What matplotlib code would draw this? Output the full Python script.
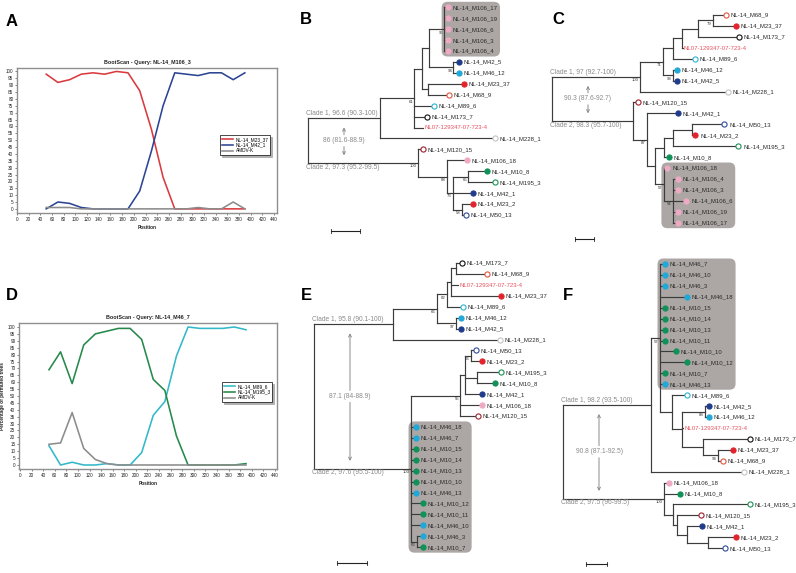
import re
import matplotlib
matplotlib.use('Agg')
import matplotlib.pyplot as plt
import matplotlib.transforms as mtransforms
from matplotlib.collections import LineCollection
from matplotlib.patches import FancyBboxPatch
from matplotlib.ticker import MultipleLocator

plt.rcParams['font.family'] = ['Liberation Sans', 'DejaVu Sans']

# Data

# BootScan windows (position of window centre)
positions = [50, 70, 90, 110, 130, 150, 170, 190, 210, 230, 250, 270, 290, 310, 330, 350, 370, 390]

# A: query NL-14_M106_3
a_m23_37 = [98, 92, 94, 98, 99, 98, 100, 99, 86, 58, 23, 0, 0, 0, 0, 0, 0, 0]
a_m42_1 = [0, 5, 4, 1, 0, 0, 0, 0, 13, 42, 75, 99, 98, 97, 99, 99, 94, 99]
a_amdv_k = [1, 1, 1, 0, 0, 0, 0, 0, 0, 0, 0, 0, 0, 1, 0, 0, 5, 0]

# D: query NL-14_M46_7
d_m89_6 = [14, 0, 2, 0, 0, 1, 0, 0, 9, 36, 46, 79, 100, 99, 99, 99, 100, 98]
d_m195_3 = [69, 82, 59, 87, 95, 97, 99, 99, 91, 62, 54, 21, 0, 0, 0, 0, 0, 1]
d_amdv_k = [15, 16, 38, 12, 4, 1, 0, 0, 0, 0, 0, 0, 0, 0, 0, 0, 0, 0]

# trees (branch lengths in substitutions/site, internal labels = bootstrap)
newick_b = ("((((((NL-14_M106_17:0.0007,NL-14_M106_19:0.0007,NL-14_M106_6:0.0007,NL-14_M106_3:0.0007,"
            "NL-14_M106_4:0.0007)95:0.0104,(NL-14_M42_5:0.0021,NL-14_M46_12:0.0021)94:0.0166):0.0048,"
            "(NL-14_M23_37:0.0228,NL-14_M68_9:0.0124):0.0041):0.0055,NL-14_M89_6:0.0117,NL-14_M173_7:0.0069,"
            "NL07-129347-07-723-4:0.0062)61:0.0235,NL-14_M228_1:0.0773):0.0497,(NL-14_M120_15:0.0014,"
            "(NL-14_M106_18:0.0117,((NL-14_M10_8:0.0110,NL-14_M195_3:0.0166)65:0.0104,NL-14_M42_1:0.0117,"
            "(NL-14_M23_2:0.0055,NL-14_M50_13:0.0007)58:0.0062)73:0.0041)68:0.0200)100:0.0759);")

newick_c = ("(((((((NL-14_M68_9:0.0053,NL-14_M23_37:0.0105)79:0.0079,NL-14_M173_7:0.0200):0.0084,"
            "NL07-129347-07-723-4:0.0003):0.0047,NL-14_M89_6:0.0100):0.0053,(NL-14_M46_12:0.0005,"
            "NL-14_M42_5:0.0005)93:0.0053)71:0.0121,NL-14_M228_1:0.0447)100:0.0463,(NL-14_M120_15:0.0011,"
            "(NL-14_M42_1:0.0147,((((NL-14_M50_13:0.0158,NL-14_M23_2:0.0005):0.0100,NL-14_M195_3:0.0331):0.0047,"
            "NL-14_M10_8:0.0011):0.0047,(NL-14_M106_18:0.0005,(NL-14_M106_4:0.0011,NL-14_M106_3:0.0011,"
            "NL-14_M106_6:0.0058,NL-14_M106_19:0.0011,NL-14_M106_17:0.0011)54:0.0047)57:0.0047):0.0042)87:0.0074)"
            ":0.0426);")

newick_e = ("((((((NL-14_M173_7:0.0020,NL-14_M68_9:0.0187):0.0033,NL07-129347-07-723-4:0.0047,"
            "NL-14_M23_37:0.0313):0.0027,NL-14_M89_6:0.0087)62:0.0067,(NL-14_M46_12:0.0013,"
            "NL-14_M42_5:0.0013)97:0.0127)66:0.0293,NL-14_M228_1:0.0694):0.0527,((((NL-14_M50_13:0.0013,"
            "NL-14_M23_2:0.0053)66:0.0040,(NL-14_M195_3:0.0140,NL-14_M10_8:0.0100):0.0080,NL-14_M42_1:0.0093)"
            ":0.0033,NL-14_M106_18:0.0127,NL-14_M120_15:0.0100)55:0.0327,NL-14_M46_18:0.0013,NL-14_M46_7:0.0013,"
            "NL-14_M10_15:0.0013,NL-14_M10_14:0.0013,NL-14_M10_13:0.0013,NL-14_M10_10:0.0013,NL-14_M46_13:0.0013,"
            "NL-14_M10_12:0.0060,NL-14_M10_11:0.0060,NL-14_M46_10:0.0060,(NL-14_M46_3:0.0020,"
            "NL-14_M10_7:0.0020)66:0.0040)100:0.0647);")

newick_f = ("(((NL-14_M46_7:0.0010,NL-14_M46_10:0.0010,NL-14_M46_3:0.0010,NL-14_M46_18:0.0114,"
            "NL-14_M10_15:0.0010,NL-14_M10_14:0.0010,NL-14_M10_13:0.0010,NL-14_M10_11:0.0010,"
            "NL-14_M10_10:0.0062,NL-14_M10_12:0.0114,NL-14_M10_7:0.0010,NL-14_M46_13:0.0010,"
            "(NL-14_M89_6:0.0057,((NL-14_M42_5:0.0005,NL-14_M46_12:0.0005)88:0.0110,"
            "NL07-129347-07-723-4:0.0005,(NL-14_M173_7:0.0210,(NL-14_M23_37:0.0057,"
            "NL-14_M68_9:0.0010)94:0.0071):0.0100):0.0048):0.0057)57:0.0043,NL-14_M228_1:0.0429):0.0419,"
            "(NL-14_M106_18:0.0010,NL-14_M10_8:0.0062,(NL-14_M195_3:0.0352,(NL-14_M120_15:0.0100,"
            "(NL-14_M42_1:0.0057,(NL-14_M23_2:0.0119,NL-14_M50_13:0.0067):0.0100):0.0048):0.0019):0.0043)"
            "100:0.0481);")

notes_b = ['Clade 1, 96.6 (90.3-100)', '86 (81.6-88.9)', 'Clade 2, 97.3 (95.2-99.5)']
notes_c = ['Clade 1, 97 (92.7-100)', '90.3 (87.6-92.7)', 'Clade 2, 98.3 (95.7-100)']
notes_e = ['Clade 1, 95.8 (90.1-100)', '87.1 (84-88.9)', 'Clade 2, 97.6 (95.5-100)']
notes_f = ['Clade 1, 98.2 (93.5-100)', '90.8 (87.1-92.5)', 'Clade 2, 97.5 (96-99.5)']

scale_b, scale_c, scale_e, scale_f = 0.02, 0.01, 0.02, 0.01

box_b = ['NL-14_M106_17', 'NL-14_M106_4']
box_c = ['NL-14_M106_18', 'NL-14_M106_17']
box_e = ['NL-14_M46_18', 'NL-14_M10_7']
box_f = ['NL-14_M46_7', 'NL-14_M46_13']

# sample (mink farm) colours, open circle for some
sample_colour = {'M106': '#eeaac4', 'M42': '#1f3b8b', 'M46': '#1fa8d8', 'M23': '#e2232c',
                 'M10': '#0f9158', 'M68': '#e4533f', 'M89': '#2cb2d3', 'M173': '#111111',
                 'M228': '#c4c4c4', 'M120': '#a11f2d', 'M195': '#1c9154', 'M50': '#2f4a9b'}
open_samples = ['M68', 'M89', 'M173', 'M228', 'M120', 'M195', 'M50']
ref_colour = '#e9525f'

red = '#d93a3f'
navy = '#2c4593'
grey = '#8c8c8c'
cyan = '#33b8c9'
green = '#24894b'
note_grey = '#8a8a8a'
branch_col = '#3c3c3c'
box_col = '#aca7a4'

W, H = 796, 573
SP = 10.93  # px between leaves

fig = plt.figure(figsize=(7.96, 5.73), dpi=100)


def px_axes(left, top, width, height):
    return fig.add_axes([left / W, 1 - (top + height) / H, width / W, height / H])


# Bootscan plots

def bootscan(ax, title, series, xlim, ylim, leg_anchor):
    for label, vals, col in series:
        ax.plot(positions, vals, color=col, lw=1.15, label=label, solid_joinstyle='round')
    ax.set_xlim(*xlim)
    ax.set_ylim(*ylim)
    ax.set_xticks(range(0, 441, 20))
    ax.set_yticks(range(0, 101, 5))
    ax.xaxis.set_minor_locator(MultipleLocator(5))
    ax.tick_params(labelsize=3.3, length=1.6, width=0.4, pad=1, colors='#222222')
    ax.tick_params(which='minor', length=1.0, width=0.3)
    for s in ax.spines.values():
        s.set_color('#8f8f8f')
        s.set_linewidth(1.0)
    ax.set_title(title, fontsize=3.9, fontweight='bold', pad=3.2, color='#222222')
    ax.set_xlabel('Position', fontsize=3.4, fontweight='bold', labelpad=2.5, color='#222222')
    leg = ax.legend(loc='upper left', bbox_to_anchor=leg_anchor, fontsize=3.4, frameon=True,
                    fancybox=False, shadow={'ox': 1.3, 'oy': -1.3, 'shade': 0.6},
                    edgecolor='black', framealpha=1,
                    borderpad=0.35, labelspacing=0.15, handlelength=2.4, handletextpad=0.5)
    leg.get_frame().set_linewidth(0.5)


axA = px_axes(17, 68, 260, 145)
bootscan(axA, 'BootScan - Query: NL-14_M106_3',
         [('NL-14_M23_37', a_m23_37, red), ('NL-14_M42_1', a_m42_1, navy), ('AMDV-K', a_amdv_k, grey)],
         (0, 445), (-3, 102.5), (0.773, 0.552))

axD = px_axes(19, 323, 258, 146)
bootscan(axD, 'BootScan - Query: NL-14_M46_7',
         [('NL-14_M89_6', d_m89_6, cyan), ('NL-14_M195_3', d_m195_3, green), ('AMDV-K', d_amdv_k, grey)],
         (-1.7, 443.5), (-2.9, 102.9), (0.779, 0.61))
axD.set_ylabel('Percentage of permuted trees', fontsize=3.4, fontweight='bold', labelpad=2, color='#222222')


# Trees

def parse_newick(s):
    s = s.strip().rstrip(';')
    pos = 0

    def node():
        nonlocal pos
        n = {'children': [], 'name': '', 'length': 0.0}
        if s[pos] == '(':
            pos += 1
            while True:
                n['children'].append(node())
                if s[pos] == ',':
                    pos += 1
                    continue
                pos += 1  # ')'
                break
        start = pos
        while pos < len(s) and s[pos] not in ',():':
            pos += 1
        n['name'] = s[start:pos]
        if pos < len(s) and s[pos] == ':':
            pos += 1
            start = pos
            while pos < len(s) and s[pos] not in ',()':
                pos += 1
            n['length'] = float(s[start:pos])
        return n
    return node()


def place(n, parent_x, parent, leaves):
    n['x'] = parent_x + n['length']
    n['parent'] = parent
    if n['children']:
        for c in n['children']:
            place(c, n['x'], n, leaves)
        n['y'] = (n['children'][0]['y'] + n['children'][-1]['y']) / 2
    else:
        n['y'] = len(leaves)
        leaves.append(n)


def walk(n):
    yield n
    for c in n['children']:
        yield from walk(c)


def tree_panel(newick, root_x, first_y, ppu, notes, bar, box):
    root = parse_newick(newick)
    root['length'] = 0.0
    leaves = []
    place(root, 0.0, None, leaves)
    n = len(leaves)
    width = 240
    ax = px_axes(root_x, first_y - SP / 2, width, n * SP)
    ax.set_xlim(0, width / ppu)
    ax.set_ylim(n - 0.5, -0.5)
    ax.axis('off')

    segs = []
    for nd in walk(root):
        if nd['children']:
            segs.append([(nd['x'], nd['children'][0]['y']), (nd['x'], nd['children'][-1]['y'])])
            for c in nd['children']:
                segs.append([(nd['x'], c['y']), (c['x'], c['y'])])
            if nd['name'] and nd is not root:
                ax.annotate(nd['name'], (nd['x'], nd['y']), xytext=(-0.8, -1.0),
                            textcoords='offset points', ha='right', va='top',
                            fontsize=3.1, color='#333333', zorder=4)
    ax.add_collection(LineCollection(segs, colors=branch_col, linewidths=0.85,
                                     capstyle='projecting', zorder=2, clip_on=False))

    dot_tr = mtransforms.offset_copy(ax.transData, fig=fig, x=1.9, y=0, units='points')
    texts = {}
    for lf in leaves:
        m = re.search(r'_(M\d+)_', lf['name'])
        if m:
            key = m.group(1)
            col = sample_colour[key]
            face = 'white' if key in open_samples else col
            ax.plot(lf['x'], lf['y'], 'o', ms=3.7, mfc=face, mec=col, mew=0.8,
                    transform=dot_tr, clip_on=False, zorder=3)
            texts[lf['name']] = ax.annotate(lf['name'], (lf['x'], lf['y']), xytext=(5.3, -0.2),
                                            textcoords='offset points', ha='left', va='center',
                                            fontsize=4.3, color='#2a2a2a', zorder=4)
        else:
            texts[lf['name']] = ax.annotate(lf['name'], (lf['x'], lf['y']), xytext=(0.8, -0.2),
                                            textcoords='offset points', ha='left', va='center',
                                            fontsize=4.3, color=ref_colour, zorder=4)

    # clade annotations
    c1, c2 = root['children']
    xc = 36 / ppu
    ax.annotate(notes[0], (0, c1['y']), xytext=(-1.2, 0.6), textcoords='offset points',
                ha='left', va='bottom', fontsize=4.8, color=note_grey)
    ax.annotate(notes[2], (0, c2['y']), xytext=(-1.2, -0.6), textcoords='offset points',
                ha='left', va='top', fontsize=4.8, color=note_grey)
    ym = (c1['y'] + c2['y']) / 2
    ax.text(xc, ym, notes[1], ha='center', va='center', fontsize=4.8, color=note_grey)
    arrow = dict(arrowstyle='->', color=note_grey, lw=0.7, mutation_scale=5)
    ax.annotate('', xy=(xc, c1['y']), xytext=(xc, ym),
                arrowprops=dict(arrow, shrinkA=4.3, shrinkB=6.5))
    ax.annotate('', xy=(xc, c2['y']), xytext=(xc, ym),
                arrowprops=dict(arrow, shrinkA=4.3, shrinkB=5.5))

    # scale bar
    x0 = 23 / ppu
    yb = n - 1 + 16 / SP
    ax.plot([x0, x0 + bar], [yb, yb], color='#222222', lw=0.8, clip_on=False)
    for xe in (x0, x0 + bar):
        ax.plot([xe, xe], [yb - 0.17, yb + 0.17], color='#222222', lw=0.6, clip_on=False)
    ax.annotate('%g' % bar, (x0 + bar / 2, yb), xytext=(0, -1.6), textcoords='offset points',
                ha='center', va='top', fontsize=3.1, color='#333333')

    # grey box behind a group of leaves
    first = [lf for lf in leaves if lf['name'] == box[0]][0]
    last = [lf for lf in leaves if lf['name'] == box[1]][0]
    members = leaves[first['y']:last['y'] + 1]
    renderer = fig.canvas.get_renderer()
    xr = max(texts[lf['name']].get_window_extent(renderer).x1 for lf in members) + 2.5
    xl = ax.transData.transform((first['parent']['x'], 0))[0] - 2.5
    yt = ax.transData.transform((0, first['y']))[1] + 5.5
    yb2 = ax.transData.transform((0, last['y']))[1] - 5.5
    patch = FancyBboxPatch((xl, yb2), xr - xl, yt - yb2, boxstyle='round,pad=0,rounding_size=6',
                           fc=box_col, ec='none', zorder=0, clip_on=False,
                           transform=mtransforms.IdentityTransform())
    ax.add_patch(patch)
    return ax


tree_panel(newick_b, 308, 7.3, 29 / scale_b, notes_b, scale_b, box_b)
tree_panel(newick_c, 552, 15, 19 / scale_c, notes_c, scale_c, box_c)
tree_panel(newick_e, 314, 263, 30 / scale_e, notes_e, scale_e, box_e)
tree_panel(newick_f, 563, 264, 21 / scale_f, notes_f, scale_f, box_f)

# panel letters
for letter, (px, py) in {'A': (12, 21), 'B': (306, 20), 'C': (558, 20),
                         'D': (12, 296), 'E': (306, 296), 'F': (568, 296)}.items():
    fig.text(px / W, 1 - py / H, letter, fontsize=12, fontweight='bold', ha='center', va='center')

fig.savefig('out.png', dpi=100)
